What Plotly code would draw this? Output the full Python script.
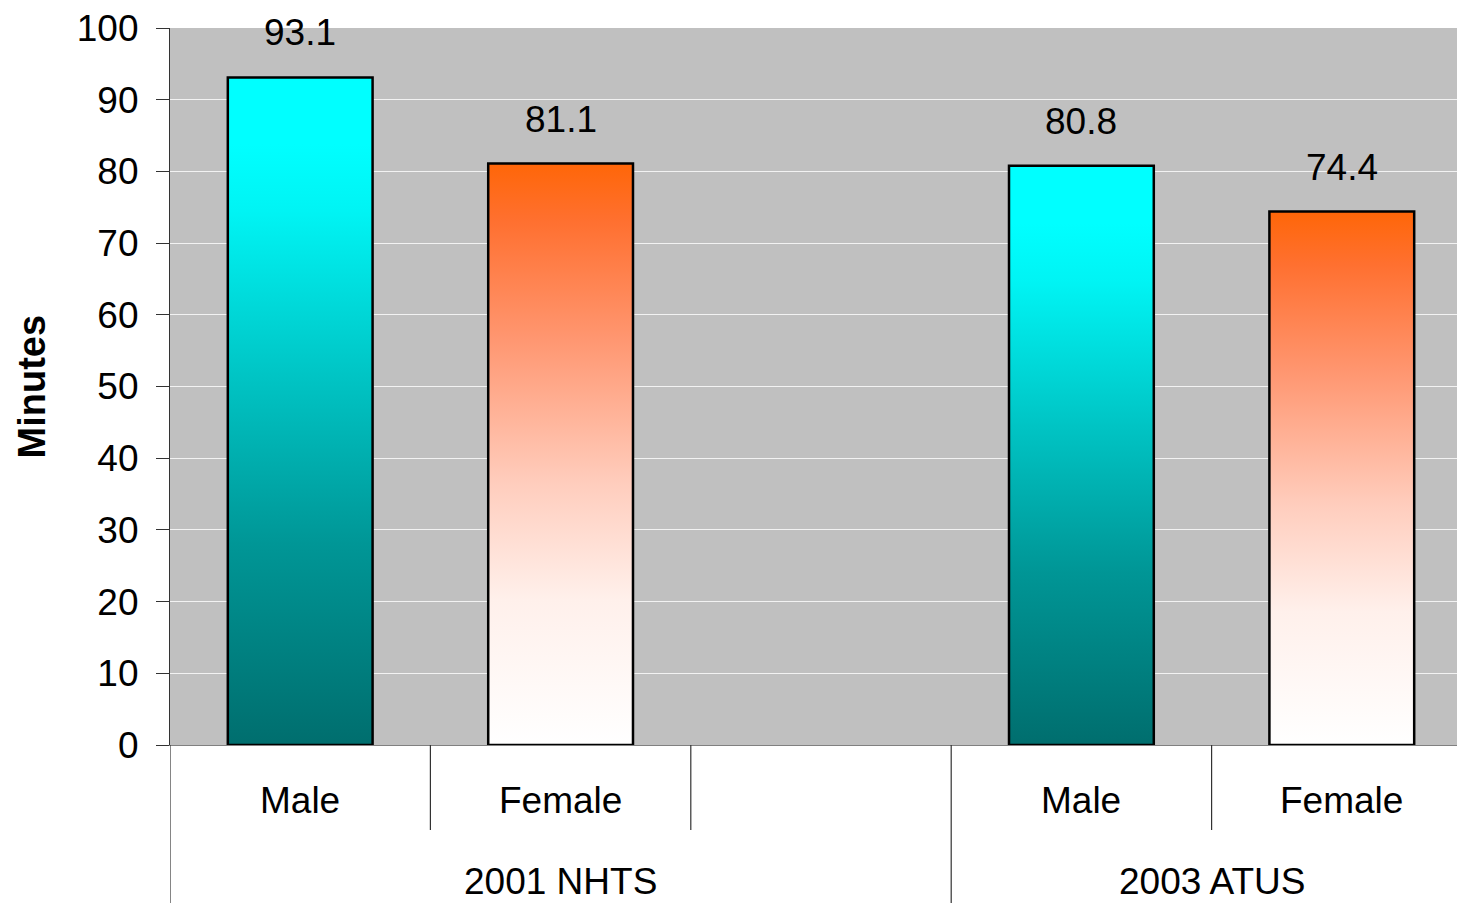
import plotly.graph_objects as go

# ---- data ----
groups = ["2001 NHTS", "2003 ATUS"]
categories = ["Male", "Female"]
values = {
    "2001 NHTS": [93.1, 81.1],
    "2003 ATUS": [80.8, 74.4],
}
y_ticks = list(range(0, 101, 10))
y_title = "Minutes"

# ---- styles ----
FONT = "Liberation Sans, Arial, sans-serif"
male_scale = [[0.0, "#006E6E"], [0.3, "#009696"], [0.55, "#00C4C4"],
              [0.8, "#00F4F4"], [0.9, "#00FFFF"], [1.0, "#00FFFF"]]
female_scale = [[0.0, "#FFFFFF"], [0.25, "#FFF0EB"], [0.45, "#FFCDBD"],
                [0.7, "#FF9670"], [0.9, "#FF7030"], [1.0, "#FF6608"]]
scales = {"Male": male_scale, "Female": female_scale}

W, H = 1457, 903
ML, MT, MB = 170, 28, 158
plot_h = H - MT - MB
slots_per_group = [3, 2]   # first group has an empty slot after its bars
half_w = 0.278

fig = go.Figure()
annotations = []
shapes = []

slot = 0
for gi, g in enumerate(groups):
    start = slot
    for ci, c in enumerate(categories):
        v = values[g][ci]
        xc = slot + ci + 0.5
        fig.add_trace(go.Scatter(
            x=[xc - half_w, xc - half_w, xc + half_w, xc + half_w, xc - half_w],
            y=[0, v, v, 0, 0],
            mode="lines", fill="toself",
            fillgradient=dict(type="vertical", colorscale=scales[c], start=0, stop=v),
            line=dict(color="black", width=2.5),
            hoverinfo="skip", showlegend=False,
        ))
        annotations.append(dict(x=xc, y=v, xref="x", yref="y", text=f"{v:.1f}",
                                showarrow=False, yanchor="bottom", yshift=22,
                                font=dict(size=37, color="black", family=FONT)))
        annotations.append(dict(x=xc, y=-(800 - (H - MB)) / plot_h, xref="x", yref="paper",
                                text=c, showarrow=False, yanchor="middle",
                                font=dict(size=37, color="black", family=FONT)))
    n = slots_per_group[gi]
    annotations.append(dict(x=start + n / 2, y=-(882 - (H - MB)) / plot_h, xref="x", yref="paper",
                            text=g, showarrow=False, yanchor="middle",
                            font=dict(size=37, color="black", family=FONT)))
    # dividers
    shapes.append(dict(type="line", xref="x", yref="paper", x0=start, x1=start,
                       y0=0, y1=-(H - (H - MB)) / plot_h, line=dict(color="#333333", width=1.2)))
    for k in range(1, n):
        shapes.append(dict(type="line", xref="x", yref="paper", x0=start + k, x1=start + k,
                           y0=0, y1=-(830 - (H - MB)) / plot_h, line=dict(color="#333333", width=1.2)))
    slot += n

annotations.append(dict(x=-(170 - 31) / (W - ML), y=0.5, xref="paper", yref="paper",
                        text=f"<b>{y_title}</b>", textangle=-90, showarrow=False,
                        xanchor="center", yanchor="middle",
                        font=dict(size=38, color="black", family=FONT)))

unit_px = 260.4
fig.update_layout(
    width=W, height=H,
    margin=dict(l=ML, r=0, t=MT, b=MB, pad=0),
    paper_bgcolor="white", plot_bgcolor="#C0C0C0",
    font=dict(family=FONT, color="black"),
    xaxis=dict(range=[0, (W - ML) / unit_px], showgrid=False, zeroline=False,
               showticklabels=False, ticks="", showline=True, linecolor="#808080",
               linewidth=1.2, fixedrange=True),
    yaxis=dict(range=[0, 100], tickvals=y_ticks, ticktext=[str(t) for t in y_ticks],
               showgrid=True, gridcolor="#F2F2F2", gridwidth=1.3, zeroline=False,
               showline=True, linecolor="#333333", linewidth=1.2,
               ticks="outside", ticklen=13, tickcolor="#333333", tickwidth=1.2,
               ticklabelstandoff=10,
               tickfont=dict(size=37, color="black", family=FONT), fixedrange=True),
    annotations=annotations, shapes=shapes,
)

fig.write_html("out.html")
